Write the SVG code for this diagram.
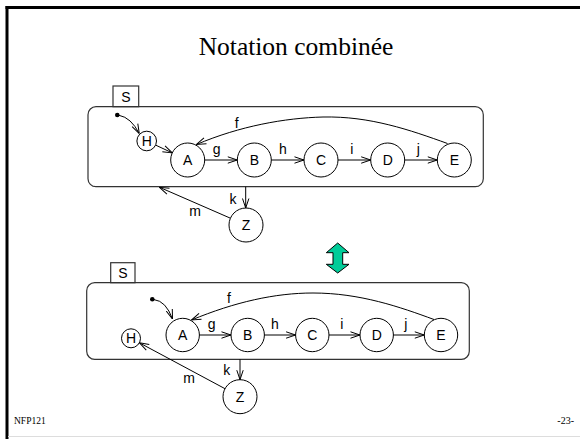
<svg xmlns="http://www.w3.org/2000/svg" width="580" height="439" viewBox="0 0 580 439">
<style>
.st{fill:#fff;stroke:#000;stroke-width:1}
.box{fill:none;stroke:#333;stroke-width:1.2}
.lbl{font-family:"Liberation Sans",Arial,sans-serif;font-size:14px;fill:#000;text-anchor:middle}
.edge{fill:none;stroke:#000;stroke-width:1}
.ser{font-family:"Liberation Serif","Times New Roman",serif;fill:#000}
</style>
<defs>
<marker id="ah" viewBox="0 0 10 8" refX="10" refY="4" markerWidth="10" markerHeight="8" markerUnits="userSpaceOnUse" orient="auto">
<path d="M0.5,0.8 L10,4 L0.5,7.2" fill="none" stroke="#000" stroke-width="1"/>
</marker>
</defs>
<rect width="580" height="439" fill="#fff"/>
<g id="frame">
<line x1="5.5" y1="7.5" x2="580" y2="7.5" stroke="#000" stroke-width="3"/>
<line x1="7" y1="6" x2="7" y2="439" stroke="#000" stroke-width="3"/>
<line x1="8" y1="436.5" x2="580" y2="436.5" stroke="#ddd" stroke-width="1"/>
</g>
<text class="ser" x="296" y="55" font-size="25.5" text-anchor="middle">Notation combinée</text>
<text class="ser" x="14" y="424" font-size="9.5">NFP121</text>
<text class="ser" x="574" y="424" font-size="10" text-anchor="end">-23-</text>

<!-- Top diagram -->
<g id="top-S">
<rect class="box" x="88" y="106.7" width="395.3" height="80" rx="8"/>
<rect class="box" x="113" y="86" width="25.7" height="20.7"/>
<text class="lbl" x="125.8" y="101.5">S</text>
</g>
<g id="top-init"><circle cx="117.3" cy="115" r="2.3" fill="#000"/></g>
<g id="top-H"><circle class="st" cx="146.7" cy="141" r="9.8"/><text class="lbl" x="146.7" y="146">H</text></g>
<g id="top-A"><circle class="st" cx="187.7" cy="160" r="17"/><text class="lbl" x="187.7" y="165">A</text></g>
<g id="top-B"><circle class="st" cx="254.3" cy="160" r="17"/><text class="lbl" x="254.3" y="165">B</text></g>
<g id="top-C"><circle class="st" cx="321" cy="160" r="17"/><text class="lbl" x="321" y="165">C</text></g>
<g id="top-D"><circle class="st" cx="387.7" cy="160" r="17"/><text class="lbl" x="387.7" y="165">D</text></g>
<g id="top-E"><circle class="st" cx="454.3" cy="160" r="17"/><text class="lbl" x="454.3" y="165">E</text></g>
<g id="top-Z"><circle class="st" cx="246" cy="225" r="17"/><text class="lbl" x="246" y="230">Z</text></g>
<g id="top-edges">
<path class="edge" d="M119,115.3 Q131,117.5 139.3,133.6" marker-end="url(#ah)"/>
<path class="edge" d="M155.8,145.2 L172.3,152.9" marker-end="url(#ah)"/>
<path class="edge" d="M204.7,160 L237.3,160" marker-end="url(#ah)"/>
<path class="edge" d="M271.3,160 L304,160" marker-end="url(#ah)"/>
<path class="edge" d="M338,160 L370.7,160" marker-end="url(#ah)"/>
<path class="edge" d="M404.7,160 L437.3,160" marker-end="url(#ah)"/>
<path class="edge" d="M447.5,143.5 C410,130 370,116 323,117 C285,118 240,126 196.5,144.5" marker-end="url(#ah)"/>
<path class="edge" d="M245.7,186.7 L245.7,208" marker-end="url(#ah)"/>
<path class="edge" d="M230.4,218.2 L159.5,187.3" marker-end="url(#ah)"/>
<text class="lbl" x="216.7" y="154">g</text>
<text class="lbl" x="283" y="154">h</text>
<text class="lbl" x="351.7" y="154">i</text>
<text class="lbl" x="418.3" y="154">j</text>
<text class="lbl" x="236.7" y="128">f</text>
<text class="lbl" x="233" y="204">k</text>
<text class="lbl" x="195" y="216">m</text>
</g>

<!-- Green double arrow -->
<g id="swap">
<polygon points="337.7,243 349,252.7 342.7,252.7 342.7,264.3 349,264.3 337.7,273 326.3,264.3 333,264.3 333,252.7 326.3,252.7" fill="#00CC99" stroke="#000" stroke-width="1"/>
</g>

<!-- Bottom diagram -->
<g id="bot-S">
<rect class="box" x="86.7" y="282.7" width="382.6" height="76.6" rx="8"/>
<rect class="box" x="110.7" y="262.7" width="24.3" height="20"/>
<text class="lbl" x="122.8" y="277.8">S</text>
</g>
<g id="bot-init"><circle cx="152.3" cy="299.3" r="2.3" fill="#000"/></g>
<g id="bot-H"><circle class="st" cx="131" cy="338.3" r="9.5"/><text class="lbl" x="131" y="343.3">H</text></g>
<g id="bot-A"><circle class="st" cx="182.7" cy="335" r="16.7"/><text class="lbl" x="182.7" y="340">A</text></g>
<g id="bot-B"><circle class="st" cx="247.7" cy="335" r="16.7"/><text class="lbl" x="247.7" y="340">B</text></g>
<g id="bot-C"><circle class="st" cx="312.3" cy="335" r="16.7"/><text class="lbl" x="312.3" y="340">C</text></g>
<g id="bot-D"><circle class="st" cx="376.7" cy="335" r="16.7"/><text class="lbl" x="376.7" y="340">D</text></g>
<g id="bot-E"><circle class="st" cx="441" cy="335" r="16.7"/><text class="lbl" x="441" y="340">E</text></g>
<g id="bot-Z"><circle class="st" cx="240" cy="396.7" r="17"/><text class="lbl" x="240" y="401.7">Z</text></g>
<g id="bot-edges">
<path class="edge" d="M154,299.6 Q166,301 172.5,319" marker-end="url(#ah)"/>
<path class="edge" d="M199.4,335 L231,335" marker-end="url(#ah)"/>
<path class="edge" d="M264.4,335 L295.6,335" marker-end="url(#ah)"/>
<path class="edge" d="M329,335 L360,335" marker-end="url(#ah)"/>
<path class="edge" d="M393.4,335 L424.3,335" marker-end="url(#ah)"/>
<path class="edge" d="M434,319.5 C400,307 360,293 313,293 C275,293 235,302 191.5,320" marker-end="url(#ah)"/>
<path class="edge" d="M240,359.3 L240,379.7" marker-end="url(#ah)"/>
<path class="edge" d="M225,388.7 L139.4,342.8" marker-end="url(#ah)"/>
<text class="lbl" x="211.7" y="329">g</text>
<text class="lbl" x="275" y="329">h</text>
<text class="lbl" x="341.7" y="329">i</text>
<text class="lbl" x="405.7" y="329">j</text>
<text class="lbl" x="229" y="303">f</text>
<text class="lbl" x="226.7" y="375">k</text>
<text class="lbl" x="189" y="383">m</text>
</g>
</svg>
